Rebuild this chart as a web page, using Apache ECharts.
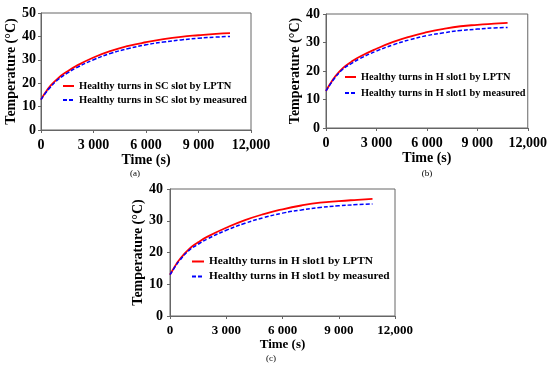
<!DOCTYPE html>
<html><head><meta charset="utf-8">
<script src="https://cdn.jsdelivr.net/npm/echarts@6/dist/echarts.min.js"></script>
<style>html,body{margin:0;padding:0;background:#fff}#c{width:550px;height:369px}</style>
</head><body><div id="c"></div>
<script>
const timeS = [0, 250, 500, 1000, 1500, 2000, 3000, 4000, 5000, 6000, 7000, 8000, 9000, 10000, 10800];
const scLptn = [13, 16, 18.5, 22.3, 25, 27.3, 31, 33.8, 35.9, 37.5, 38.8, 39.8, 40.5, 41.1, 41.4];
const scMeas = [13, 15.7, 18, 21.7, 24.3, 26.5, 30, 32.8, 34.8, 36.4, 37.6, 38.5, 39.2, 39.7, 40.0];
const h1Lptn = [13, 15.5, 17.7, 21, 23.2, 25, 27.8, 30.2, 32.1, 33.6, 34.8, 35.7, 36.2, 36.6, 36.9];
const h1Meas = [13, 15.3, 17.4, 20.6, 22.6, 24.3, 27, 29.2, 31, 32.4, 33.4, 34.2, 34.7, 35.1, 35.3];
const xTickLabels = ['0', '3 000', '6 000', '9 000', '12,000'];
const legendA = ['Healthy turns in SC slot by LPTN', 'Healthy turns in SC slot by measured'];
const legendB = ['Healthy turns in H slot1 by LPTN', 'Healthy turns in H slot1 by measured'];
const captions = ['(a)', '(b)', '(c)'];
const yTitle = 'Temperature (°C)';
const xTitle = 'Time (s)';

const FONT = '"Liberation Serif", "Times New Roman", serif';
const AX = '#666';
const pairs = v => timeS.map((t, i) => [t, v[i]]);

function xAxis(gi, fs, gap) {
  return {
    type: 'value', gridIndex: gi, min: 0, max: 12000, interval: 3000,
    name: xTitle, nameLocation: 'middle', nameGap: gap,
    nameTextStyle: {fontFamily: FONT, fontWeight: 'bold', fontSize: fs, color: '#000'},
    axisLine: {show: true, lineStyle: {color: AX}},
    axisTick: {show: true, length: 3, lineStyle: {color: AX}},
    splitLine: {show: false},
    axisLabel: {fontFamily: FONT, fontWeight: 'bold', fontSize: fs, color: '#000', margin: 8,
      formatter: v => xTickLabels[Math.round(v / 3000)]}
  };
}
function yAxis(gi, max, fs, gap, margin) {
  return {
    type: 'value', gridIndex: gi, min: 0, max: max, interval: 10,
    name: yTitle, nameLocation: 'middle', nameGap: gap, nameRotate: 90,
    nameTextStyle: {fontFamily: FONT, fontWeight: 'bold', fontSize: fs, color: '#000'},
    axisLine: {show: true, lineStyle: {color: AX}},
    axisTick: {show: true, length: 3, lineStyle: {color: AX}},
    splitLine: {show: false},
    axisLabel: {fontFamily: FONT, fontWeight: 'bold', fontSize: fs, color: '#000', margin: margin}
  };
}
function ser(name, gi, data, dashed) {
  return {
    type: 'line', name: name, xAxisIndex: gi, yAxisIndex: gi, data: pairs(data),
    showSymbol: false, symbol: 'none', smooth: true, animation: false,
    lineStyle: dashed ? {color: '#0000ff', width: 1.5, type: [4, 2]} : {color: '#ff0000', width: 1.8},
    itemStyle: {color: dashed ? '#0000ff' : '#ff0000'}
  };
}
function legend(names, left, top, fs, lh, gap, iw) {
  return {
    data: names, orient: 'vertical', left: left, top: top, itemGap: gap,
    itemWidth: iw, itemHeight: 8, padding: 0,
    itemStyle: {opacity: 0, borderWidth: 0},
    textStyle: {fontFamily: FONT, fontWeight: 'bold', fontSize: fs, lineHeight: lh, color: '#000'}
  };
}
const capStyle = {fontFamily: FONT, fontSize: 9, fontWeight: 'normal', color: '#000'};

const chart = echarts.init(document.getElementById('c'), null, {renderer: 'canvas'});
chart.setOption({
  animation: false,
  backgroundColor: '#fff',
  grid: [
    {left: 41, top: 13, width: 210, height: 117, show: true, borderColor: AX, borderWidth: 1, backgroundColor: 'transparent'},
    {left: 326, top: 14, width: 204, height: 114, show: true, borderColor: AX, borderWidth: 1, backgroundColor: 'transparent'},
    {left: 170, top: 189, width: 225, height: 127, show: true, borderColor: AX, borderWidth: 1, backgroundColor: 'transparent'}
  ],
  xAxis: [xAxis(0, 14, 19), xAxis(1, 14, 19), xAxis(2, 13, 21)],
  yAxis: [yAxis(0, 50, 14, 21, 5), yAxis(1, 40, 14, 22, 6), yAxis(2, 40, 14, 25, 7)],
  legend: [
    legend(legendA, 62, 80, 10.5, 12, 2, 11),
    legend(legendB, 344, 71, 10.3, 12, 4, 11),
    legend(legendB, 191, 255, 11.3, 13, 2, 12)
  ],
  title: [
    {text: captions[0], left: 135, top: 169, textAlign: 'center', padding: 0, textStyle: capStyle},
    {text: captions[1], left: 427, top: 169, textAlign: 'center', padding: 0, textStyle: capStyle},
    {text: captions[2], left: 271, top: 354, textAlign: 'center', padding: 0, textStyle: capStyle}
  ],
  series: [
    ser(legendA[0], 0, scLptn, false), ser(legendA[1], 0, scMeas, true),
    ser(legendB[0], 1, h1Lptn, false), ser(legendB[1], 1, h1Meas, true),
    ser(legendB[0], 2, h1Lptn, false), ser(legendB[1], 2, h1Meas, true)
  ]
});
</script></body></html>
